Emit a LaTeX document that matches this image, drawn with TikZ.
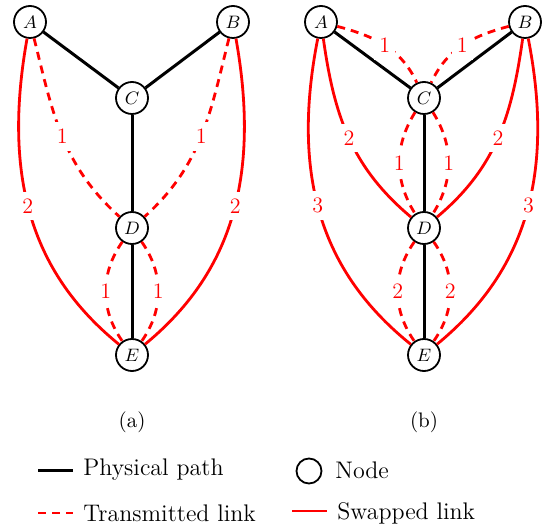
\documentclass[tikz,border=0pt]{standalone}
\usetikzlibrary{calc}
\begin{document}
\begin{tikzpicture}[x=0.5pt,y=0.5pt]
\tikzset{
 nd/.style={circle, draw, line width=0.9pt, minimum size=16pt, inner sep=0pt, fill=white, font=\fontsize{9}{11}\selectfont},
 lnd/.style={circle, draw, line width=0.9pt, minimum size=12.5pt, inner sep=0pt},
 phys/.style={line width=1.5pt},
 trans/.style={red, line width=1.4pt, dash pattern=on 4pt off 3pt},
 swap/.style={red, line width=1.4pt},
 lab/.style={fill=white, text=red, inner xsep=2.5pt, inner ysep=3.5pt, font=\fontsize{11}{13}\selectfont},
 legtxt/.style={anchor=west, inner sep=0pt, font=\fontsize{12}{14}\selectfont},
 captxt/.style={font=\fontsize{10.5}{12}\selectfont}
}
\useasboundingbox (0,0) rectangle (545,530);
% ---------- panel (a)
\node[nd] (aA) at (30,508) {$A$};
\node[nd] (aB) at (233,508) {$B$};
\node[nd] (aC) at (132,432) {$C$};
\node[nd] (aD) at (132,302) {$D$};
\node[nd] (aE) at (132,175) {$E$};
\draw[phys] (aA) -- (aC);
\draw[phys] (aB) -- (aC);
\draw[phys] (aC) -- (aD);
\draw[phys] (aD) -- (aE);
\draw[trans] (aA) to[out=-76,in=138] node[lab, pos=0.5]{1} (aD);
\draw[trans] (aB) to[out=-104,in=42] node[lab, pos=0.5]{1} (aD);
\draw[swap] (aA) .. controls (0,340) and (40,250) .. node[lab, pos=0.44]{2} (aE);
\draw[swap] (aB) .. controls (263,340) and (223,250) .. node[lab, pos=0.44]{2} (aE);
\draw[trans] (aD) to[out=-125,in=125] node[lab]{1} (aE);
\draw[trans] (aD) to[out=-55,in=55] node[lab]{1} (aE);
\node[captxt] (capa) at (132,108) {(a)};
% ---------- panel (b)
\node[nd] (bA) at (321,508) {$A$};
\node[nd] (bB) at (525,508) {$B$};
\node[nd] (bC) at (424,432) {$C$};
\node[nd] (bD) at (424,302) {$D$};
\node[nd] (bE) at (424,175) {$E$};
\draw[phys] (bA) -- (bC);
\draw[phys] (bB) -- (bC);
\draw[phys] (bC) -- (bD);
\draw[phys] (bD) -- (bE);
\draw[trans] (bA) to[out=-15,in=115] node[lab]{1} (bC);
\draw[trans] (bB) to[out=195,in=65] node[lab]{1} (bC);
\draw[swap] (bA) to[out=-82,in=140] node[lab, pos=0.5]{2} (bD);
\draw[swap] (bB) to[out=-98,in=40] node[lab, pos=0.5]{2} (bD);
\draw[swap] (bA) .. controls (288,340) and (331,250) .. node[lab, pos=0.44]{3} (bE);
\draw[swap] (bB) .. controls (558,340) and (515,250) .. node[lab, pos=0.44]{3} (bE);
\draw[trans] (bC) to[out=-122,in=122] node[lab]{1} (bD);
\draw[trans] (bC) to[out=-58,in=58] node[lab]{1} (bD);
\draw[trans] (bD) to[out=-125,in=125] node[lab]{2} (bE);
\draw[trans] (bD) to[out=-55,in=55] node[lab]{2} (bE);
\node[captxt] (capb) at (424,108) {(b)};
% ---------- legend
\coordinate (l1s) at (38,60); \coordinate (l1e) at (73,60);
\draw[phys] (l1s) -- (l1e);
\node[legtxt] (t1) at (83,60) {Physical path};
\coordinate (l2s) at (38,17); \coordinate (l2e) at (73,17);
\draw[trans] (l2s) -- (l2e);
\node[legtxt] (t2) at (83,17) {Transmitted link};
\node[lnd] (lc) at (309,59) {};
\node[legtxt] (t3) at (335,60) {Node};
\coordinate (l4s) at (292,19); \coordinate (l4e) at (327,19);
\draw[swap] (l4s) -- (l4e);
\node[legtxt] (t4) at (337,17) {Swapped link};
\end{tikzpicture}
\end{document}
